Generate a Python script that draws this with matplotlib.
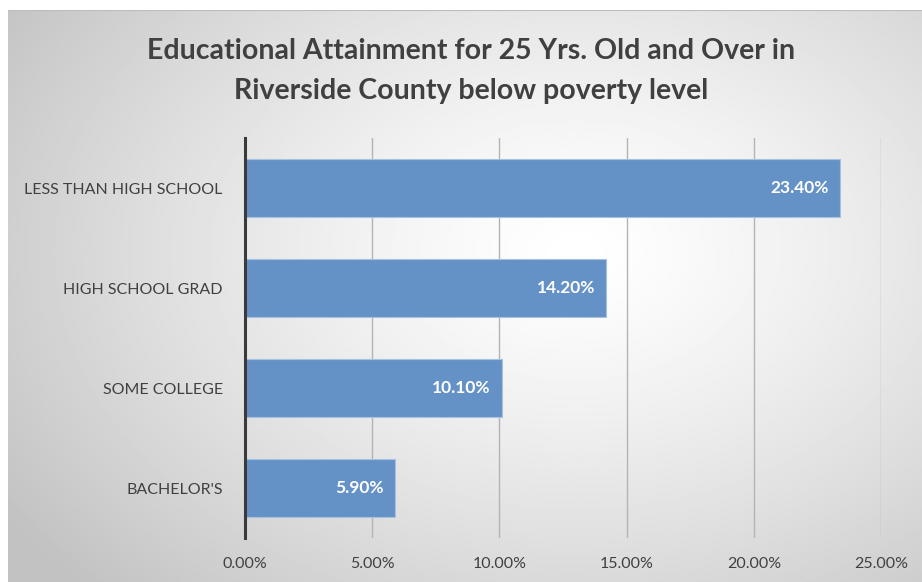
import matplotlib
matplotlib.use("Agg")
import matplotlib.pyplot as plt
import numpy as np

categories = ["LESS THAN HIGH SCHOOL", "HIGH SCHOOL GRAD", "SOME COLLEGE", "BACHELOR'S"]
values = [23.4, 14.2, 10.1, 5.9]
xticks = [0, 5, 10, 15, 20, 25]

BAR = "#6592C6"
TEXT = "#404040"

plt.rcParams["font.family"] = ["Lato", "DejaVu Sans"]

W, H = 922, 582
fig = plt.figure(figsize=(W / 100, H / 100), dpi=100)

# radial grey backdrop for the chart area
bg = fig.add_axes([8 / W, 0, 1 - 8 / W, (H - 10) / H])
bg.set_axis_off()
yy, xx = np.mgrid[0:1:300j, 0:1:480j]
r = np.sqrt(((xx - 0.62) / 0.75) ** 2 + ((yy - 0.42) / 0.85) ** 2)
shade = 1.0 - 0.24 * np.clip(r, 0, 1) ** 1.3
bg.imshow(shade, cmap="gray", vmin=0, vmax=1, aspect="auto",
          extent=[0, 1, 0, 1], origin="upper")
bg.plot([0, 1], [1, 1], color="#bcbcbc", lw=1.5, transform=bg.transAxes)

ax = fig.add_axes([245 / W, 1 - 538 / H, (881 - 245) / W, 400 / H])
ax.patch.set_alpha(0)
pos = np.arange(len(categories))
ax.barh(pos, values, height=0.58, color=BAR, edgecolor="#a9c1e0", lw=0.8,
        zorder=3)
for p, v in zip(pos, values):
    ax.text(v - 0.45, p, f"{v:.2f}%", color="white", fontsize=12.5,
            fontweight="bold", ha="right", va="center", zorder=4)

ax.set_xlim(0, 25)
ax.set_ylim(len(categories) - 0.5, -0.5)
ax.set_xticks(xticks)
ax.set_xticklabels([f"{t:.2f}%" for t in xticks])
ax.set_yticks(pos)
ax.set_yticklabels(categories)
ax.tick_params(length=0, labelsize=11.5, labelcolor=TEXT)
ax.tick_params(axis="x", pad=14)
ax.tick_params(axis="y", pad=16)
ax.grid(True, axis="x", color="#b4b4b4", lw=1.0, zorder=0)
for s in ("top", "right", "bottom"):
    ax.spines[s].set_visible(False)
ax.spines["left"].set_color("#3a3a3a")
ax.spines["left"].set_linewidth(2.2)
ax.spines["left"].set_zorder(5)

fig.text(0.5 + 10 / W, 1 - 71 / H,
         "Educational Attainment for 25 Yrs. Old and Over in\nRiverside County below poverty level",
         ha="center", va="center", fontsize=20.5, fontweight="bold", color=TEXT,
         linespacing=1.7)

fig.savefig("out.png", dpi=100)
